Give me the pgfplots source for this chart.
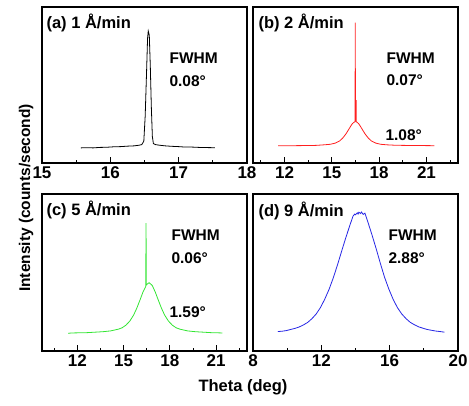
\documentclass[border=0pt]{standalone}
\usepackage{fontspec}
\setmainfont{Liberation Sans}
\usepackage{pgfplots}
\pgfplotsset{compat=1.18}
\definecolor{cred}{rgb}{1,0.12,0.12}
\definecolor{cgreen}{rgb}{0.2,0.9,0.2}
\definecolor{cblue}{rgb}{0.15,0.15,0.9}
\newcommand\tf{\bfseries\fontsize{15.5}{17}\selectfont}
\newcommand\ttl{\bfseries\fontsize{16.5}{18}\selectfont}
\newcommand\tkf{\bfseries\fontsize{17}{18}\selectfont}
\pgfplotsset{
  panel/.style={scale only axis, width=205pt, height=156pt, ymin=0, ymax=1,
    ytick=\empty, xtick pos=left, tick align=inside,
    major tick length=6pt, minor tick length=3.5pt,
    axis line style={line width=1.2pt},
    every tick/.append style={line width=1pt,black},
    ticklabel style={font=\tkf},
    /pgf/number format/assume math mode=true,
    anchor=south west},
  dat/.style={line width=0.8pt, no markers}
}
\begin{document}
\begin{tikzpicture}
\path[use as bounding box] (0,0) rectangle (469pt,-405pt);
% (a)
\begin{axis}[panel, at={(42pt,-163pt)}, xmin=15, xmax=18, xtick={15,16,17,18}, minor xtick={15.5,16.5,17.5}]
\addplot[dat, black] coordinates {(15.57,0.097)(15.65,0.098)(15.75,0.097)(15.85,0.100)(15.95,0.101)(16.05,0.104)(16.15,0.105)(16.25,0.108)(16.35,0.110)(16.42,0.114)(16.46,0.118)(16.49,0.14)(16.51,0.30)(16.53,0.58)(16.545,0.80)(16.555,0.846)(16.57,0.82)(16.585,0.62)(16.60,0.36)(16.615,0.17)(16.63,0.125)(16.66,0.118)(16.72,0.114)(16.8,0.110)(16.9,0.107)(17.0,0.105)(17.1,0.102)(17.2,0.102)(17.3,0.100)(17.4,0.099)(17.53,0.098)};
\end{axis}
% (b)
\begin{axis}[panel, at={(253pt,-163pt)}, xmin=10, xmax=23, xtick={12,15,18,21}, minor xtick={10.5,13.5,16.5,19.5,22.5}]
\addplot[dat, cred] coordinates {(11.6,0.110)(12.5,0.111)(13.5,0.112)(14.0,0.113)(14.5,0.1165)(14.9,0.120)(15.2,0.127)(15.5,0.142)(15.7,0.161)(15.9,0.1875)(16.05,0.212)(16.2,0.237)(16.3,0.252)(16.4,0.261)(16.47,0.264)(16.485,0.90)(16.495,0.35)(16.51,0.265)(16.525,0.40)(16.54,0.40)(16.55,0.265)(16.6,0.261)(16.7,0.252)(16.8,0.237)(16.95,0.212)(17.1,0.1875)(17.3,0.161)(17.5,0.142)(17.8,0.127)(18.1,0.120)(18.5,0.1165)(19.0,0.114)(19.5,0.113)(20.5,0.112)(21.5,0.111)};
\end{axis}
% (c)
\begin{axis}[panel, at={(42pt,-351pt)}, height=157pt, xmin=9.7, xmax=23, xtick={12,15,18,21}, minor xtick={10.5,13.5,16.5,19.5,22.5}]
\addplot[dat, cgreen] coordinates {(11.4,0.113)(11.65,0.115)(12.65,0.117)(13.15,0.120)(13.65,0.123)(14.15,0.128)(14.65,0.139)(14.9,0.148)(15.15,0.165)(15.4,0.191)(15.65,0.230)(15.85,0.273)(16.05,0.323)(16.25,0.375)(16.40,0.405)(16.43,0.41)(16.435,0.62)(16.44,0.415)(16.45,0.815)(16.46,0.55)(16.465,0.42)(16.55,0.428)(16.65,0.435)(16.85,0.418)(17.05,0.375)(17.25,0.323)(17.45,0.273)(17.65,0.230)(17.9,0.191)(18.15,0.165)(18.4,0.148)(18.65,0.139)(19.15,0.128)(19.65,0.123)(20.15,0.120)(20.65,0.117)(21.4,0.115)};
\end{axis}
% (d)
\begin{axis}[panel, at={(253pt,-351pt)}, height=157pt, xmin=8, xmax=20, xtick={8,12,16,20}, minor xtick={10,14,18}]
\addplot[dat, cblue] coordinates {(9.45,0.124)(9.7,0.126)(9.95,0.130)(10.2,0.137)(10.45,0.144)(10.7,0.153)(10.95,0.166)(11.2,0.182)(11.45,0.206)(11.7,0.236)(11.95,0.277)(12.2,0.330)(12.45,0.392)(12.7,0.466)(12.95,0.550)(13.2,0.640)(13.45,0.728)(13.7,0.810)(13.85,0.858)(13.95,0.872)(14.0,0.868)(14.1,0.880)(14.15,0.872)(14.2,0.884)(14.3,0.876)(14.35,0.885)(14.45,0.870)(14.55,0.878)(14.7,0.830)(14.95,0.745)(15.2,0.655)(15.45,0.560)(15.7,0.470)(15.95,0.395)(16.2,0.330)(16.45,0.277)(16.7,0.237)(16.95,0.207)(17.2,0.183)(17.45,0.167)(17.7,0.154)(17.95,0.145)(18.2,0.137)(18.45,0.132)(18.7,0.127)(18.95,0.124)(19.2,0.120)};
\end{axis}
% annotations
\node[anchor=west, font=\ttl] at (43pt,-23pt) {(a) 1 Å/min};
\node[anchor=west, font=\tf] at (166pt,-58pt) {FWHM};
\node[anchor=west, font=\tf] at (166pt,-81pt) {0.08°};
\node[anchor=west, font=\ttl] at (255pt,-23pt) {(b) 2 Å/min};
\node[anchor=west, font=\tf] at (383pt,-58pt) {FWHM};
\node[anchor=west, font=\tf] at (383pt,-80pt) {0.07°};
\node[anchor=west, font=\tf] at (382pt,-135pt) {1.08°};
\node[anchor=west, font=\ttl] at (43pt,-210pt) {(c) 5 Å/min};
\node[anchor=west, font=\tf] at (168pt,-235pt) {FWHM};
\node[anchor=west, font=\tf] at (168pt,-258pt) {0.06°};
\node[anchor=west, font=\tf] at (166pt,-312pt) {1.59°};
\node[anchor=west, font=\ttl] at (255pt,-211pt) {(d) 9 Å/min};
\node[anchor=west, font=\tf] at (385pt,-235pt) {FWHM};
\node[anchor=west, font=\tf] at (385pt,-258pt) {2.88°};
\node[rotate=90, font=\tf] at (26pt,-198pt) {Intensity (counts/second)};
\node[font=\ttl] at (243pt,-387pt) {Theta (deg)};
\end{tikzpicture}
\end{document}
